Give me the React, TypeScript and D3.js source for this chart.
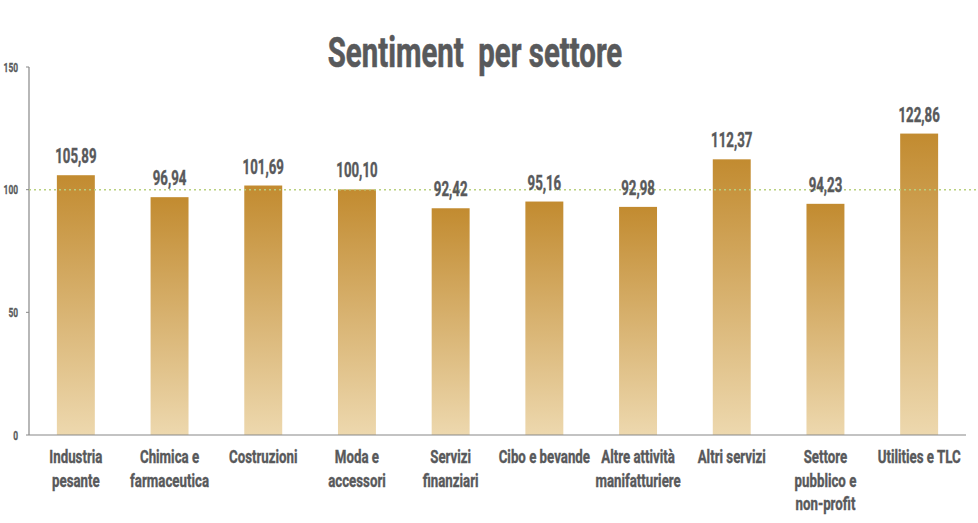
import React from "react";
import * as d3 from "d3";

const categories: string[][] = [
  ["Industria", "pesante"],
  ["Chimica e", "farmaceutica"],
  ["Costruzioni"],
  ["Moda e", "accessori"],
  ["Servizi", "finanziari"],
  ["Cibo e bevande"],
  ["Altre attività", "manifatturiere"],
  ["Altri servizi"],
  ["Settore", "pubblico e", "non-profit"],
  ["Utilities e TLC"],
];
const values: number[] = [105.89, 96.94, 101.69, 100.1, 92.42, 95.16, 92.98, 112.37, 94.23, 122.86];
const yTicks: number[] = [0, 50, 100, 150];
const referenceValue = 100;
const title = "Sentiment  per settore";

const W = 978;
const H = 523;
const FONT = "Roboto, 'DejaVu Sans', sans-serif";
const TEXT = "#58595B";

function CText({ x, y, size, sx, anchor = "middle", sw = 0.4, children }: any) {
  return (
    <text
      transform={`translate(${x},${y}) scale(${sx},1)`}
      fontFamily={FONT}
      fontWeight={700}
      fontSize={size}
      fill={TEXT}
      stroke={TEXT}
      strokeWidth={sw}
      textAnchor={anchor}
      style={{ whiteSpace: "pre" }}
    >
      {children}
    </text>
  );
}

export default function App() {
  const ids = categories.map((_, i) => String(i));
  const x = d3.scaleBand<string>().domain(ids).range([29, 966]).paddingInner(0.595).paddingOuter(0.2975);
  const y = d3.scaleLinear().domain([0, 150]).range([435, 67]);
  const fmt = (v: number) => d3.format(".2f")(v).replace(".", ",");

  return (
    <svg width={W} height={H} style={{ position: "absolute", left: 0, top: 0, background: "#fff" }}>
      <defs>
        <linearGradient id="barGrad" x1="0" y1="0" x2="0" y2="1">
          <stop offset="0%" stopColor="#C28B30" />
          <stop offset="100%" stopColor="#EDD8AE" />
        </linearGradient>
      </defs>

      <CText x={475} y={67} size={42} sx={0.7} sw={0.6}>{title}</CText>

      {/* y axis */}
      <line x1={29} x2={29} y1={y(150)} y2={y(0)} stroke="#888" strokeWidth={1.2} />
      {yTicks.map((t) => (
        <g key={t}>
          <line x1={26} x2={29} y1={y(t)} y2={y(t)} stroke="#888" strokeWidth={1} />
          <CText x={18} y={y(t) + 4.5} size={12.5} sx={0.67} sw={0.3} anchor="end">{String(t)}</CText>
        </g>
      ))}

      {/* bars */}
      {values.map((v, i) => (
        <rect key={i} x={x(ids[i])} y={y(v)} width={x.bandwidth()} height={y(0) - y(v)} fill="url(#barGrad)" />
      ))}

      {/* x axis */}
      <line x1={29} x2={966} y1={y(0)} y2={y(0)} stroke="#888" strokeWidth={1.2} />

      {/* reference line */}
      <line x1={29} x2={978} y1={y(referenceValue)} y2={y(referenceValue)} stroke="#B9D07F" strokeWidth={1.5} strokeDasharray="2,3" />

      {/* value labels */}
      {values.map((v, i) => (
        <CText key={i} x={(x(ids[i]) as number) + x.bandwidth() / 2} y={y(v) - 12} size={19.5} sx={0.68}>{fmt(v)}</CText>
      ))}

      {/* category labels */}
      {categories.map((lines, i) => (
        <g key={i}>
          {lines.map((l, j) => (
            <CText key={j} x={(x(ids[i]) as number) + x.bandwidth() / 2} y={463 + j * 23.5} size={19} sx={0.7}>{l}</CText>
          ))}
        </g>
      ))}
    </svg>
  );
}
